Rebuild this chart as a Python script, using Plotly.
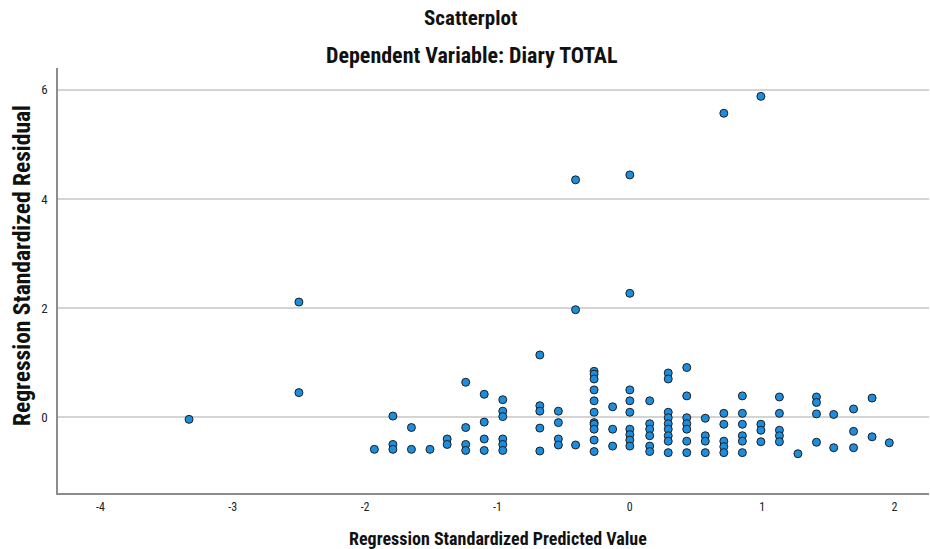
import plotly.graph_objects as go

# Regression standardized predicted values (x) and standardized residuals (y)
predicted = (
    [-3.33]
    + [-2.50] * 2
    + [-1.93]
    + [-1.79] * 3
    + [-1.65] * 2
    + [-1.51]
    + [-1.38] * 2
    + [-1.24] * 4
    + [-1.10] * 4
    + [-0.96] * 6
    + [-0.68] * 5
    + [-0.54] * 4
    + [-0.41] * 3
    + [-0.27] * 11
    + [-0.13] * 3
    + [0.00] * 9
    + [0.15] * 6
    + [0.29] * 9
    + [0.43] * 7
    + [0.57] * 4
    + [0.71] * 6
    + [0.85] * 6
    + [0.99] * 4
    + [1.13] * 5
    + [1.27]
    + [1.41] * 4
    + [1.54] * 2
    + [1.69] * 3
    + [1.83] * 2
    + [1.96]
)
residual = [
    -0.04,
    2.11, 0.45,
    -0.59,
    0.02, -0.50, -0.59,
    -0.19, -0.59,
    -0.59,
    -0.40, -0.50,
    0.64, -0.19, -0.50, -0.61,
    0.42, -0.09, -0.40, -0.61,
    0.32, 0.11, 0.01, -0.40, -0.50, -0.61,
    1.14, 0.21, 0.11, -0.20, -0.62,
    0.11, -0.10, -0.40, -0.51,
    4.35, 1.97, -0.51,
    0.84, 0.79, 0.70, 0.50, 0.30, 0.09, -0.10, -0.13, -0.22, -0.42, -0.63,
    0.19, -0.22, -0.53,
    4.44, 2.27, 0.50, 0.30, 0.09, -0.22, -0.32, -0.42, -0.53,
    0.30, -0.12, -0.22, -0.34, -0.53, -0.63,
    0.81, 0.70, 0.09, -0.01, -0.12, -0.22, -0.34, -0.44, -0.65,
    0.91, 0.39, -0.01, -0.12, -0.22, -0.44, -0.65,
    -0.02, -0.34, -0.44, -0.65,
    5.57, 0.07, -0.13, -0.44, -0.54, -0.65,
    0.39, 0.07, -0.13, -0.34, -0.44, -0.65,
    5.88, -0.13, -0.24, -0.45,
    0.37, 0.07, -0.24, -0.34, -0.45,
    -0.67,
    0.37, 0.27, 0.06, -0.46,
    0.05, -0.56,
    0.15, -0.26, -0.56,
    0.35, -0.36,
    -0.47,
]
x_tickvals = [-4, -3, -2, -1, 0, 1, 2]
x_ticktext = ["-4", "-3", "-2", "-1", "0", "1", "2"]
y_tickvals = [0, 2, 4, 6]
y_ticktext = ["0", "2", "4", "6"]

title_text = "Scatterplot"
subtitle_text = "Dependent Variable: Diary TOTAL"
x_title = "Regression Standardized Predicted Value"
y_title = "Regression Standardized Residual"

FONT = "Liberation Sans Narrow, Roboto Condensed, Roboto, Arial, sans-serif"

fig = go.Figure(
    go.Scatter(
        x=predicted,
        y=residual,
        mode="markers",
        marker=dict(size=8, color="#1b8ee0", line=dict(color="#1e1e1e", width=1)),
        hoverinfo="x+y",
    )
)

W, H = 930, 549
L, R, T, B = 58, 1, 68, 56
pw, ph = W - L - R, H - T - B


def px_x(p):
    return (p - L) / pw


def px_y(p):
    return (H - B - p) / ph


fig.update_layout(
    width=W,
    height=H,
    margin=dict(l=L, r=R, t=T, b=B),
    paper_bgcolor="white",
    plot_bgcolor="white",
    showlegend=False,
    font=dict(family=FONT, color="#222222", size=11),
    xaxis=dict(
        range=[-4.32, 2.26],
        tickvals=x_tickvals,
        ticktext=x_ticktext,
        showgrid=False,
        zeroline=False,
        showline=True,
        linecolor="#8c8c8c",
        linewidth=1.5,
        ticks="",
        tickfont=dict(size=12, color="#222222"),
        ticklabelstandoff=2,
    ),
    yaxis=dict(
        range=[-1.39, 6.40],
        tickvals=y_tickvals,
        ticktext=y_ticktext,
        showgrid=True,
        gridcolor="#d4d4d4",
        gridwidth=1.5,
        zeroline=False,
        showline=True,
        linecolor="#8c8c8c",
        linewidth=1.5,
        ticks="",
        tickfont=dict(size=13, color="#222222"),
        ticklabelstandoff=6,
    ),
    annotations=[
        dict(text="<b>" + title_text + "</b>", xref="paper", yref="paper",
             x=px_x(470), y=px_y(18), xanchor="center", yanchor="middle",
             showarrow=False, font=dict(size=21, family=FONT, color="#111111")),
        dict(text="<b>" + subtitle_text + "</b>", xref="paper", yref="paper",
             x=px_x(471), y=px_y(55), xanchor="center", yanchor="middle",
             showarrow=False, font=dict(size=22, family=FONT, color="#111111")),
        dict(text="<b>" + x_title + "</b>", xref="paper", yref="paper",
             x=px_x(498), y=px_y(538), xanchor="center", yanchor="middle",
             showarrow=False, font=dict(size=18, family=FONT, color="#111111")),
        dict(text="<b>" + y_title + "</b>", xref="paper", yref="paper",
             x=px_x(22), y=px_y(266), xanchor="center", yanchor="middle",
             textangle=-90, showarrow=False,
             font=dict(size=23.5, family=FONT, color="#111111")),
    ],
)

fig.write_html("out.html")
